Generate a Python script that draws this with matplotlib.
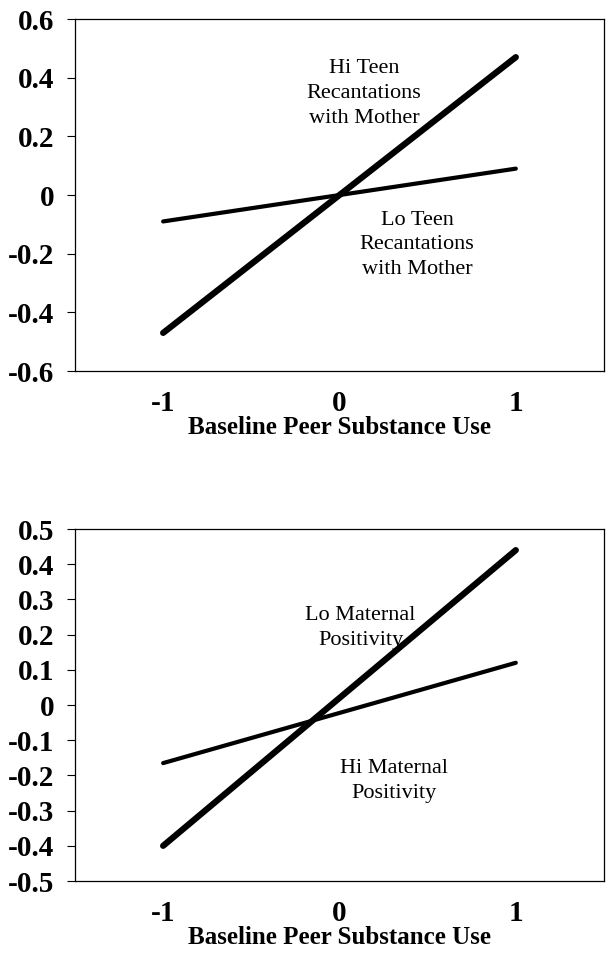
import numpy as np
import matplotlib
matplotlib.use("Agg")
from matplotlib import pyplot as plt

plt.rcParams['font.family'] = ['Liberation Serif', 'DejaVu Serif']

# top panel: teen recantations with mother
x_pts = [-1, 1]
hi_recant = [-0.47, 0.47]
lo_recant = [-0.09, 0.09]
top_yticks = [-0.6, -0.4, -0.2, 0, 0.2, 0.4, 0.6]
top_ylabels = ["-0.6", "-0.4", "-0.2", "0", "0.2", "0.4", "0.6"]

# bottom panel: maternal positivity
lo_pos = [-0.40, 0.44]
hi_pos = [-0.165, 0.12]
bot_yticks = [-0.5, -0.4, -0.3, -0.2, -0.1, 0, 0.1, 0.2, 0.3, 0.4, 0.5]
bot_ylabels = ["-0.5", "-0.4", "-0.3", "-0.2", "-0.1", "0", "0.1", "0.2", "0.3", "0.4", "0.5"]

xticks = [-1, 0, 1]
xlabels = ["-1", "0", "1"]
xlab = "Baseline Peer Substance Use"

fig = plt.figure(figsize=(6.11, 9.57), dpi=100)
ax1 = fig.add_axes([0.1227, 0.6123, 0.8658, 0.3678])
ax2 = fig.add_axes([0.1227, 0.0794, 0.8658, 0.3678])


def style(ax, yt, yl, ylim):
    ax.set_xlim(-1.5, 1.5)
    ax.set_ylim(*ylim)
    ax.set_xticks(xticks)
    ax.set_xticklabels(xlabels, fontsize=21, fontweight='bold')
    ax.set_yticks(yt)
    ax.set_yticklabels(yl, fontsize=21, fontweight='bold')
    ax.tick_params(axis='x', length=0, pad=14)
    ax.tick_params(axis='y', length=6, width=0.8, direction='out', pad=9)
    for s in ax.spines.values():
        s.set_linewidth(0.9)
    ax.set_xlabel(xlab, fontsize=18, fontweight='bold', labelpad=-1)


ax1.plot(x_pts, hi_recant, color='black', lw=4.5, solid_capstyle='round')
ax1.plot(x_pts, lo_recant, color='black', lw=3.0, solid_capstyle='round')
style(ax1, top_yticks, top_ylabels, (-0.6, 0.6))
ax1.text(0.14, 0.345, "Hi Teen\nRecantations\nwith Mother", ha='center', va='center',
         fontsize=16, linespacing=1.42)
ax1.text(0.44, -0.17, "Lo Teen\nRecantations\nwith Mother", ha='center', va='center',
         fontsize=16, linespacing=1.42)

ax2.plot(x_pts, lo_pos, color='black', lw=4.5, solid_capstyle='round')
ax2.plot(x_pts, hi_pos, color='black', lw=3.0, solid_capstyle='round')
style(ax2, bot_yticks, bot_ylabels, (-0.5, 0.5))
ax2.text(0.12, 0.22, "Lo Maternal\nPositivity", ha='center', va='center',
         fontsize=16, linespacing=1.42)
ax2.text(0.31, -0.215, "Hi Maternal\nPositivity", ha='center', va='center',
         fontsize=16, linespacing=1.42)

plt.savefig("out.png", dpi=100)
